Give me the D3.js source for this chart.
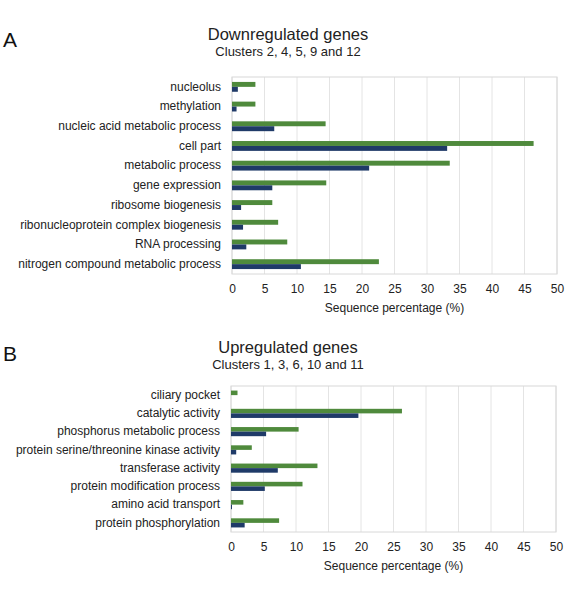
<!DOCTYPE html>
<html>
<head>
<meta charset="utf-8">
<script src="https://cdn.jsdelivr.net/npm/d3@7"></script>
<style>
  body { margin: 0; background: #fff; }
  svg { display: block; font-family: "Liberation Sans", Arial, sans-serif; }
</style>
</head>
<body>
<svg id="fig" width="569" height="590"></svg>
<script>
// panel A - downregulated genes (top to bottom)
var categoriesA = ['nucleolus', 'methylation', 'nucleic acid metabolic process', 'cell part',
  'metabolic process', 'gene expression', 'ribosome biogenesis',
  'ribonucleoprotein complex biogenesis', 'RNA processing', 'nitrogen compound metabolic process'];
var greenA = [3.6, 3.6, 14.4, 46.4, 33.5, 14.5, 6.2, 7.1, 8.5, 22.6];
var blueA = [0.9, 0.7, 6.5, 33.1, 21.1, 6.2, 1.4, 1.7, 2.2, 10.6];

// panel B - upregulated genes
var categoriesB = ['ciliary pocket', 'catalytic activity', 'phosphorus metabolic process',
  'protein serine/threonine kinase activity', 'transferase activity',
  'protein modification process', 'amino acid transport', 'protein phosphorylation'];
var greenB = [1.0, 26.3, 10.4, 3.2, 13.3, 11.0, 1.9, 7.4];
var blueB = [0, 19.6, 5.4, 0.8, 7.2, 5.2, 0.15, 2.1];

var xTicks = [0, 5, 10, 15, 20, 25, 30, 35, 40, 45, 50];

var greenColor = '#4f8a3c';
var blueColor = '#1f3a68';
var gridColor = '#e4e4e4';

var svg = d3.select('#fig');

// draws one panel; box gives the plot area in page pixels
function drawPanel(opt) {
    var g = svg.append('g');

    g.append('text')
        .attr('x', 3).attr('y', opt.letterY)
        .attr('font-size', 21).attr('fill', '#111')
        .text(opt.letter);

    g.append('text')
        .attr('x', 288).attr('y', opt.titleY)
        .attr('text-anchor', 'middle')
        .attr('font-size', 16.5).attr('fill', '#222')
        .text(opt.title);

    g.append('text')
        .attr('x', 288).attr('y', opt.titleY + 16)
        .attr('text-anchor', 'middle')
        .attr('font-size', 13).attr('fill', '#222')
        .text(opt.subtitle);

    var x = d3.scaleLinear()
        .domain([0, 50])
        .range([opt.left, opt.right]);

    var y = d3.scaleBand()
        .domain(opt.categories)
        .range([opt.top, opt.bottom])
        .paddingInner(0.5)
        .paddingOuter(0.25);

    var rows = opt.categories.map(function (c, i) {
        return { cat: c, green: opt.green[i], blue: opt.blue[i] };
    });

    // vertical grid lines
    g.selectAll('.grid')
        .data(xTicks)
        .enter().append('line')
        .attr('x1', function (d) { return x(d); })
        .attr('x2', function (d) { return x(d); })
        .attr('y1', opt.top)
        .attr('y2', opt.bottom)
        .attr('stroke', gridColor)
        .attr('stroke-width', 1);

    // frame
    g.append('rect')
        .attr('x', opt.left).attr('y', opt.top)
        .attr('width', opt.right - opt.left)
        .attr('height', opt.bottom - opt.top)
        .attr('fill', 'none')
        .attr('stroke', '#d8d8d8');

    var half = y.bandwidth() / 2;

    g.selectAll('.bar-green')
        .data(rows)
        .enter().append('rect')
        .attr('x', x(0))
        .attr('y', function (d) { return y(d.cat); })
        .attr('width', function (d) { return x(d.green) - x(0); })
        .attr('height', half)
        .attr('fill', greenColor);

    g.selectAll('.bar-blue')
        .data(rows)
        .enter().append('rect')
        .attr('x', x(0))
        .attr('y', function (d) { return y(d.cat) + half; })
        .attr('width', function (d) { return x(d.blue) - x(0); })
        .attr('height', half)
        .attr('fill', blueColor);

    // category labels
    var yAxis = d3.axisLeft(y).tickSize(0).tickPadding(11);
    var ya = g.append('g')
        .attr('transform', 'translate(' + opt.left + ',0)')
        .call(yAxis);
    ya.select('.domain').remove();
    ya.selectAll('text')
        .attr('font-size', 12)
        .attr('font-family', '"Liberation Sans", Arial, sans-serif')
        .attr('fill', '#222');

    // value axis
    var xAxis = d3.axisBottom(x).tickValues(xTicks).tickSize(0).tickPadding(10);
    var xa = g.append('g')
        .attr('transform', 'translate(0,' + opt.bottom + ')')
        .call(xAxis);
    xa.select('.domain').remove();
    xa.selectAll('text')
        .attr('font-size', 12)
        .attr('font-family', '"Liberation Sans", Arial, sans-serif')
        .attr('fill', '#222');

    g.append('text')
        .attr('x', (opt.left + opt.right) / 2)
        .attr('y', opt.bottom + 38)
        .attr('text-anchor', 'middle')
        .attr('font-size', 12).attr('fill', '#222')
        .text('Sequence percentage (%)');
}

drawPanel({
    letter: 'A', letterY: 47,
    title: 'Downregulated genes', subtitle: 'Clusters 2, 4, 5, 9 and 12', titleY: 40,
    categories: categoriesA, green: greenA, blue: blueA,
    left: 232, right: 557, top: 77, bottom: 274
});

drawPanel({
    letter: 'B', letterY: 361,
    title: 'Upregulated genes', subtitle: 'Clusters 1, 3, 6, 10 and 11', titleY: 353,
    categories: categoriesB, green: greenB, blue: blueB,
    left: 231, right: 556, top: 386, bottom: 532
});
</script>
</body>
</html>
